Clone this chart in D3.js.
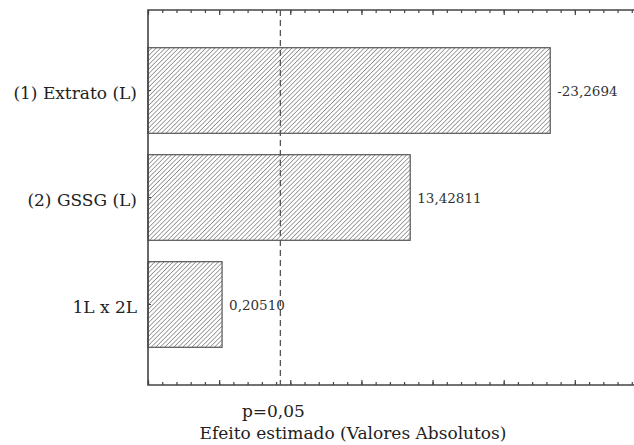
<!DOCTYPE html>
<html>
<head>
<meta charset="utf-8">
<script src="https://cdn.jsdelivr.net/npm/d3@7"></script>
<style>
  body { margin: 0; background: #fff; }
  svg { display: block; }
</style>
</head>
<body>
<svg id="chart"></svg>
<script>
// effect names, top to bottom
const categories = ["(1) Extrato (L)", "(2) GSSG (L)", "1L x 2L"];
// absolute effects (bar length)
const effects = [23.2694, 13.42811, 0.20510];
// printed labels (keep sign as in the original)
const effectLabels = ["-23,2694", "13,42811", "0,20510"];
// critical t value for p=0.05
const pLimit = 4.303;
const pLabel = "p=0,05";
const xTitle = "Efeito estimado (Valores Absolutos)";
const xDomain = [-5, 30];

const width = 634, height = 445;
const plot = { left: 148, right: 646, top: 10, bottom: 385 };
const serif = "DejaVu Serif";

const svg = d3.select("#chart")
  .attr("width", width)
  .attr("height", height);

// hatch pattern for bars
const defs = svg.append("defs");
const pat = defs.append("pattern")
  .attr("id", "hatch")
  .attr("patternUnits", "userSpaceOnUse")
  .attr("width", 3.2)
  .attr("height", 3.2)
  .attr("patternTransform", "rotate(45)");
pat.append("rect").attr("width", 3.2).attr("height", 3.2).attr("fill", "#fff");
pat.append("line")
  .attr("x1", 0).attr("y1", 0).attr("x2", 0).attr("y2", 3.2)
  .attr("stroke", "#858585")
  .attr("stroke-width", 1.5);

const x = d3.scaleLinear().domain(xDomain).range([plot.left, plot.right]);
const y = d3.scaleBand()
  .domain(categories)
  .range([plot.top, plot.bottom])
  .paddingInner(0.2)
  .paddingOuter(0.3525);

const data = categories.map((c, i) => ({ name: c, value: effects[i], label: effectLabels[i] }));

// bars from the left edge of the plot
svg.append("g")
  .selectAll("rect")
  .data(data)
  .join("rect")
  .attr("x", plot.left)
  .attr("y", d => y(d.name))
  .attr("width", d => x(d.value) - plot.left)
  .attr("height", y.bandwidth())
  .attr("fill", "url(#hatch)")
  .attr("stroke", "#555")
  .attr("stroke-width", 1.2);

// value labels
svg.append("g")
  .selectAll("text")
  .data(data)
  .join("text")
  .attr("x", d => x(d.value) + 7)
  .attr("y", d => y(d.name) + y.bandwidth() / 2)
  .attr("dy", "0.38em")
  .attr("font-family", serif)
  .attr("font-size", "13.5px")
  .attr("fill", "#333")
  .text(d => d.label);

// ticks: minor every 1, major every 5
const minor = d3.range(xDomain[0], xDomain[1] + 1, 1);
const major = d3.range(xDomain[0], xDomain[1] + 1, 5);

function tickAxis(axisFn, yPos, values, size) {
  const g = svg.append("g")
    .attr("transform", `translate(0,${yPos})`)
    .call(axisFn(x).tickValues(values).tickSize(size).tickFormat(""));
  g.select(".domain").remove();
  g.selectAll("line").attr("stroke", "#444").attr("stroke-width", 1.2);
}
tickAxis(d3.axisTop, plot.top, minor, -3);
tickAxis(d3.axisTop, plot.top, major, -5);
tickAxis(d3.axisBottom, plot.bottom, minor, -3);
tickAxis(d3.axisBottom, plot.bottom, major, -5);

// left axis with category labels
const yAxis = svg.append("g")
  .attr("transform", `translate(${plot.left},0)`)
  .call(d3.axisLeft(y).tickSize(-3).tickPadding(11))
  .attr("font-family", serif);
yAxis.select(".domain").remove();
yAxis.selectAll("line").attr("stroke", "#444");
yAxis.selectAll("text")
  .attr("dy", "0.5em")
  .attr("font-size", "17px")
  .attr("font-family", serif)
  .attr("fill", "#222");

// frame
svg.append("path")
  .attr("d", `M${plot.right},${plot.top}H${plot.left}V${plot.bottom}H${plot.right}`)
  .attr("fill", "none")
  .attr("stroke", "#444")
  .attr("stroke-width", 1.6);

// p = 0.05 reference line
svg.append("line")
  .attr("x1", x(pLimit)).attr("x2", x(pLimit))
  .attr("y1", plot.top).attr("y2", plot.bottom)
  .attr("stroke", "#555")
  .attr("stroke-width", 1.3)
  .attr("stroke-dasharray", "6,4");

svg.append("text")
  .attr("x", x(pLimit) - 7)
  .attr("y", 417)
  .attr("text-anchor", "middle")
  .attr("font-family", serif)
  .attr("font-size", "17px")
  .attr("fill", "#222")
  .text(pLabel);

svg.append("text")
  .attr("x", 353)
  .attr("y", 439)
  .attr("text-anchor", "middle")
  .attr("font-family", serif)
  .attr("font-size", "17px")
  .attr("fill", "#222")
  .text(xTitle);
</script>
</body>
</html>
